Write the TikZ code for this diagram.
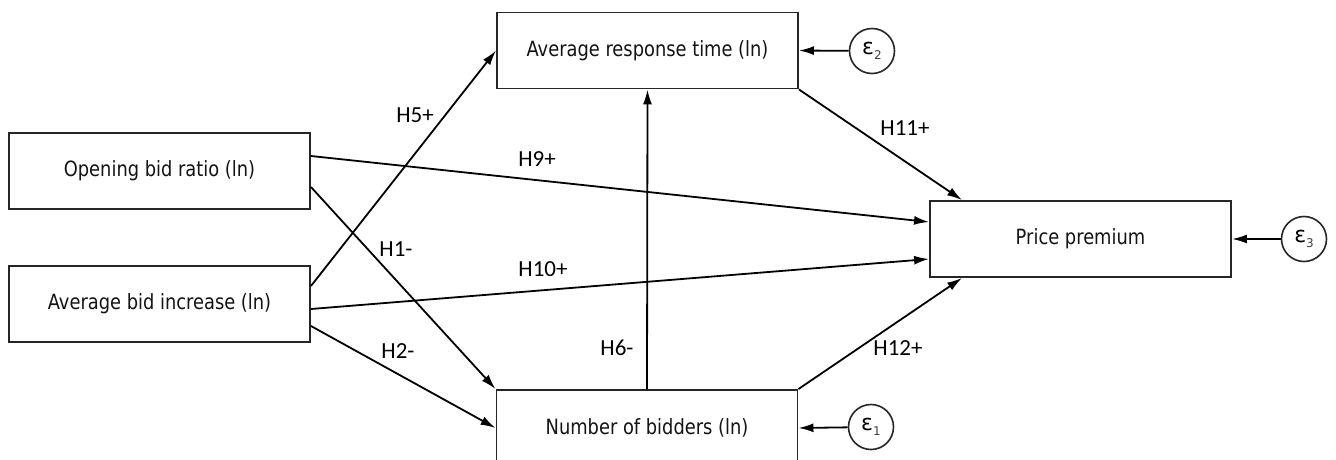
\documentclass[tikz,border=0pt]{standalone}
\usepackage{fontspec}
\setmainfont{DejaVu Sans}
\newfontfamily\boxfont[FakeStretch=0.85]{DejaVu Sans}
\newfontfamily\lblfont{Carlito}
\usetikzlibrary{arrows.meta,calc}
\tikzset{
  varbox/.style={draw=black!85, line width=1.9pt, minimum width=301pt, minimum height=76pt, inner sep=0pt,
    font=\boxfont\fontsize{21}{24}\selectfont, text=black!92},
  errcirc/.style={circle, draw=black!85, line width=1.6pt, minimum size=45pt, inner sep=0pt},
  path/.style={line width=1.8pt, -{Latex[length=15pt,width=9pt]}},
  hlabel/.style={font=\lblfont\fontsize{23}{24}\selectfont, inner sep=0pt},
}
\newcommand{\epsvar}[1]{{\fontsize{22}{24}\selectfont ε}\raisebox{-5pt}{\fontsize{12}{12}\selectfont\color{black!75}#1}}
\begin{document}
\begin{tikzpicture}[x=1pt,y=-1pt]
\clip (0,0) rectangle (1336,459);
\fill[white] (0,0) rectangle (1336,459);
% boxes
\node[varbox] (obr) at (159.5,171) {Opening bid ratio (ln)};
\node[varbox] (abi) at (159.5,304) {Average bid increase (ln)};
\node[varbox] (art) at (647.5,50.5) {Average response time (ln)};
\node[varbox] (nob) at (647,428) {Number of bidders (ln)};
\node[varbox] (pp) at (1080.5,239) {Price premium};
% error terms
\node[errcirc] (e2) at (872,51) {\epsvar{2}};
\node[errcirc] (e1) at (871,427) {\epsvar{1}};
\node[errcirc] (e3) at (1304,239) {\epsvar{3}};
% paths
\draw[path] ($(obr.east)+(0,-15)$) -- ($(pp.west)+(0,-17)$);
\draw[path] ($(abi.east)+(0,5)$) -- ($(pp.west)+(0,20)$);
\draw[path] ($(abi.east)+(0,-18)$) -- (art.west);
\draw[path] ($(obr.east)+(0,16)$) -- (nob.north west);
\draw[path] ($(abi.east)+(0,22)$) -- (nob.west);
\draw[path] (nob.north) -- (art.south);
\draw[path] (art.south east) -- ($(pp.north west)+(33,0)$);
\draw[path] (nob.north east) -- ($(pp.south west)+(33,0)$);
\draw[path] (e2) -- (art.east);
\draw[path] (e1) -- (nob.east);
\draw[path] (e3) -- (pp.east);
% labels
\node[hlabel] (l5) at (415,115) {H5+};
\node[hlabel] (l1) at (396,249) {H1-};
\node[hlabel] (l2) at (398,351) {H2-};
\node[hlabel] (l9) at (537,159) {H9+};
\node[hlabel] (l10) at (543,269) {H10+};
\node[hlabel] (l6) at (617,348) {H6-};
\node[hlabel] (l11) at (905,128) {H11+};
\node[hlabel] (l12) at (898,348) {H12+};
\end{tikzpicture}
\end{document}
